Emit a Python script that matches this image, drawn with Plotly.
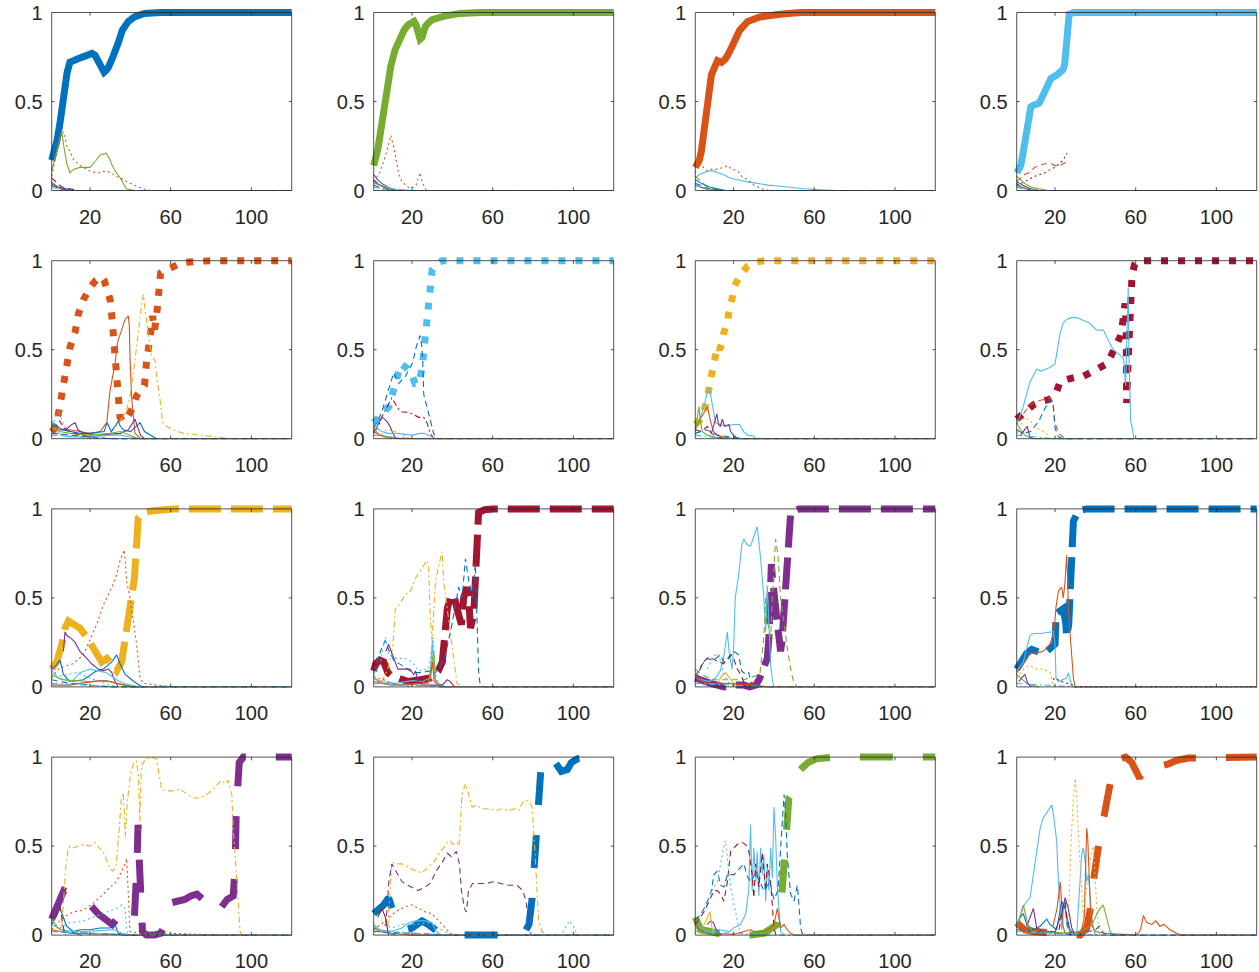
import plotly.graph_objects as go

# ---------------- data ----------------
# series key = colour letter + MATLAB line style
MAIN = ["b-", "g-", "o-", "c-",
        "o:", "c:", "y:", "r:",
        "y--", "r--", "p--", "b--",
        "p-.", "b-.", "g-.", "o-."]

P1 = {
    "b-": [(1,.17),(2.5,.22),(3.6,.28),(5,.37),(6,.46),(7,.55),(8,.63),(8.6,.66),(10,.72),(12,.735),(14,.74),(17.5,.755),(21,.77),(22.5,.76),(23.5,.74),(25.5,.69),(27,.665),(28,.675),(29,.69),(31,.74),(32.5,.78),(34,.83),(36,.9),(39,.95),(42,.975),(47,.995),(55,1),(120,1)],
    "g-": [(1,.11),(3,.2),(5,.3),(6,.33),(7,.25),(8.5,.15),(10,.1),(12,.12),(15,.13),(18,.13),(20,.13),(23,.17),(25,.2),(28,.21),(30,.17),(31,.14),(33,.1),(35,.07),(37,.03),(38,.01),(42,0)],
    "o:": [(1,.08),(3,.2),(5,.3),(7,.33),(8.5,.25),(10,.22),(12,.17),(15,.14),(18,.12),(20,.11),(23,.1),(25,.1),(28,.11),(30,.1),(33,.08),(35,.07),(38,.05),(42,.03),(46,.01),(50,0)],
    "c-": [(1,.05),(3,.03),(6,.01),(10,0),(30,0)],
    "r--": [(1,.07),(3,.05),(6,.02),(10,.01),(14,0)],
    "p-": [(1,.04),(4,.02),(8,.01),(12,0)],
    "o-": [(1,.04),(5,.01),(10,0),(120,0)],
    "b--": [(1,.03),(5,.01),(10,0),(120,0)],
    "c-.": [(1,.02),(6,0),(120,0)],
}
P2 = {
    "g-": [(1,.14),(2,.18),(3,.23),(4,.3),(5,.37),(6.5,.51),(8,.62),(9.5,.7),(11.6,.79),(13.5,.85),(16,.9),(18,.93),(21,.95),(22,.93),(23,.88),(24,.85),(25,.86),(26.5,.92),(28,.94),(30,.96),(36,.98),(44,.995),(54,1),(120,1)],
    "o:": [(1,.05),(4,.1),(7,.2),(9.5,.31),(11,.24),(12,.17),(13.5,.09),(15,.05),(17,.03),(19,.01),(22,.03),(24,.1),(25,.05),(27,0)],
    "b-": [(1,.09),(3,.06),(5,.04),(8,.02),(12,0),(20,0)],
    "r--": [(1,.06),(3,.04),(6,.02),(10,0)],
    "c-": [(1,.04),(5,.03),(10,.01),(20,0),(40,0)],
    "o-": [(1,.05),(4,.03),(8,.01),(12,0),(120,0)],
    "b--": [(1,.03),(6,.01),(12,0),(120,0)],
    "c-.": [(1,.02),(8,0),(120,0)],
}
P3 = {
    "o-": [(1,.13),(2,.15),(3,.17),(4,.22),(4.7,.28),(6,.42),(7.6,.56),(9,.65),(10.5,.69),(12,.73),(14,.72),(16,.74),(18,.78),(20.5,.85),(23,.9),(27,.95),(33,.975),(43,.99),(53,1),(120,1)],
    "c-": [(1,.07),(3,.09),(5,.1),(8,.11),(10,.11),(12,.1),(15,.09),(18,.07),(22,.06),(26,.05),(32,.04),(37,.03),(42,.025),(50,.015),(55,.01),(62,.005),(70,0)],
    "o:": [(1,.1),(3,.17),(5,.13),(7,.11),(9,.12),(12,.12),(15,.13),(17,.14),(19,.12),(22,.11),(24,.08),(27,.06),(30,.03),(34,.01),(38,0)],
    "g--": [(1,.08),(3,.06),(6,.03),(10,.01),(14,0)],
    "b-": [(1,.06),(4,.04),(8,.02),(12,.01),(16,0)],
    "r-": [(1,.03),(6,.01),(12,0),(120,0)],
    "b--": [(1,.04),(8,.01),(15,0),(120,0)],
    "c-.": [(1,.03),(10,0),(120,0)],
}
P4 = {
    "c-": [(1,.1),(2,.12),(3,.14),(4,.2),(5,.28),(6,.37),(7,.44),(8,.47),(9.4,.48),(12,.49),(13,.51),(14,.53),(16,.59),(18,.63),(21,.65),(24,.68),(24.8,.71),(25.3,.8),(26,.9),(27,.99),(29.5,1),(120,1)],
    "o--": [(1,.05),(3,.07),(5,.09),(7,.1),(10,.13),(12,.14),(15,.15),(18,.15),(20,.14),(22,.14),(24,.15),(26,.16)],
    "r:": [(1,.03),(5,.05),(10,.08),(15,.1),(18,.12),(20,.13),(22,.15),(24,.17),(26,.21)],
    "g-": [(1,.08),(3,.06),(5,.04),(8,.02),(12,.01),(16,0),(26,0)],
    "b-": [(1,.05),(4,.03),(8,.01),(12,0),(26,0)],
    "p-": [(1,.04),(3,.02),(6,.01),(10,0)],
    "y:": [(1,.06),(4,.04),(8,.02),(12,.01),(18,0)],
    "o-": [(1,.03),(6,.01),(12,0),(120,0)],
    "b--": [(1,.02),(8,0),(120,0)],
    "c-.": [(1,.02),(10,0),(120,0)],
}
P5 = {
    "o:": [(1,.04),(2.7,.06),(4.5,.15),(6,.24),(8.1,.37),(10,.51),(12.6,.6),(14.2,.7),(16.7,.78),(20,.85),(23,.89),(25.8,.91),(27,.89),(28.3,.84),(30,.78),(30.8,.69),(32,.55),(33,.4),(33.6,.31),(34,.22),(34.9,.12),(36,.1),(37.4,.1),(39.5,.14),(41.5,.18),(43,.24),(44.8,.27),(47,.3),(48,.43),(49,.5),(50,.55),(50.5,.63),(51,.69),(52,.61),(53,.69),(53.5,.78),(54,.87),(55,.93),(58,.95),(60,.96),(64,.98),(66,.99),(72,.995),(80,1),(120,1)],
    "o-": [(1,.04),(5,.05),(10,.05),(15,.04),(20,.03),(25,.04),(28.3,.09),(29.9,.27),(32.4,.42),(33.6,.54),(35.7,.61),(37.4,.67),(39,.69),(39.5,.63),(39.8,.46),(40.7,.22),(42.3,.03),(45,0),(120,0)],
    "y-.": [(30,.03),(34.9,.1),(38.2,.16),(40,.25),(42.3,.44),(44,.61),(45.6,.76),(46.5,.81),(47.3,.72),(48.9,.59),(50.6,.46),(52.2,.44),(53,.35),(54.7,.22),(56,.09),(58,.07),(61.3,.05),(66.3,.03),(74.6,.02),(80,.01),(90,0)],
    "b-": [(1,.09),(3,.08),(6,.05),(10,.04),(15,.03),(20,.03),(27,.04),(28.5,.09),(30.5,.04),(33,.08),(34,.1),(35,.07),(36.5,.05),(40,.04),(43,.07),(44.8,.09),(47,.04),(50,.02),(53,0)],
    "p-": [(5,.05),(9,.06),(11,.08),(12.6,.09),(14,.05),(17,.03),(25,.02),(35,.03),(39,.05),(41,.09),(42.3,.11),(43.5,.07),(45,.02),(47,0)],
    "c-": [(1,.1),(2,.08),(3.5,.04),(6,.02),(10,.01),(20,.01),(30,.02),(35,.02),(40,.01),(45,0)],
    "g-": [(1,.06),(5,.04),(10,.03),(20,.02),(30,.03),(35,.04),(40,.02),(44,0)],
    "c:": [(1,.07),(3,.12),(4.5,.16),(6,.1),(8,.06),(12,.03),(16,.01),(20,0)],
    "r--": [(1,.08),(3,.07),(5,.1),(7,.06),(10,.04),(15,.02),(20,.01),(25,0)],
    "b--": [(1,.03),(10,.02),(20,.01),(30,0),(120,0)],
    "c-.": [(1,.02),(15,.01),(30,0),(120,0)],
}
P6 = {
    "c:": [(1,.09),(2,.1),(4,.12),(6,.15),(8.5,.18),(10,.24),(11,.3),(13,.38),(14.5,.42),(17,.4),(19.5,.37),(21.5,.31),(23.5,.31),(25,.4),(25.8,.5),(26.6,.59),(27.4,.69),(28,.78),(29,.87),(30,.95),(32,.98),(35,1),(120,1)],
    "b--": [(1,.06),(3,.1),(5,.15),(7.6,.24),(9,.3),(10.9,.37),(12,.34),(13.4,.31),(15,.33),(16.7,.35),(18.5,.39),(20,.42),(21,.46),(21.7,.5),(23,.55),(24.1,.58),(24.8,.52),(25.3,.45),(25.8,.25),(27.4,.18),(29,.1),(30.7,.03),(32,0),(120,0)],
    "r-.": [(1,.04),(3,.06),(5,.12),(6.8,.16),(8.5,.2),(10,.23),(11.5,.2),(13,.17),(15,.15),(17,.15),(20,.14),(23.3,.12),(25.8,.12),(27.4,.09),(29,.03),(31,0)],
    "p-": [(1,.03),(3,.08),(5,.12),(6.5,.11),(8,.09),(9.5,.06),(10.5,.03),(12,0)],
    "c-": [(1,.09),(2.5,.06),(5,.04),(8,.03),(12,.03),(16,.025),(20,.02),(24,.03),(26,.03),(28,.02),(30,.01),(32,0)],
    "y:": [(5,.02),(7,.05),(9,.05),(12,.04),(14,.03),(17,.01),(20,0)],
    "g-": [(1,.06),(3,.03),(6,.01),(10,0)],
    "o-": [(1,.04),(4,.02),(8,.01),(14,0),(120,0)],
    "c-.": [(1,.02),(10,.01),(20,0),(120,0)],
}
P7 = {
    "y:": [(1,.08),(3,.1),(5,.15),(7,.22),(8,.3),(9,.37),(10,.42),(11,.48),(12,.52),(13,.5),(14,.53),(15,.59),(16,.62),(17,.66),(17.5,.7),(18.5,.74),(19.5,.8),(20.5,.86),(22,.9),(24,.93),(27,.97),(30,.99),(35,1),(120,1)],
    "c-": [(1,.04),(3,.1),(5.3,.18),(6.5,.24),(7.8,.29),(9,.22),(11,.09),(13.4,.08),(16.7,.07),(20,.08),(23,.08),(25,.04),(27,.02),(30,.015),(31,0)],
    "o-": [(1,.06),(3,.1),(5,.14),(7,.18),(8.5,.1),(10,.04),(12,.02),(15,.01),(20,0),(120,0)],
    "g-": [(1,.05),(2.8,.18),(3.5,.1),(4.5,.04),(7,.02),(10,.01),(14,0)],
    "p-": [(9,.03),(10.5,.1),(11.7,.14),(12.5,.08),(13.4,.07),(14.4,.11),(15.5,.07),(17.7,.08),(18.5,.04),(20,.02),(22,0)],
    "b--": [(1,.03),(6,.05),(9,.04),(12,.02),(18,.01),(25,0),(120,0)],
    "r--": [(1,.05),(4,.04),(7,.07),(9,.03),(12,.01),(16,0)],
    "c-.": [(1,.02),(15,0),(120,0)],
}
P8 = {
    "r:": [(1,.11),(4.3,.14),(6.8,.17),(9.3,.19),(13.4,.21),(17,.22),(20,.24),(22.5,.32),(25,.33),(27.4,.34),(30,.345),(34,.35),(37,.37),(40.7,.39),(43,.4),(45.6,.42),(47.5,.46),(49.8,.51),(51,.53),(52.2,.57),(53.2,.62),(53.9,.69),(54.7,.76),(55.3,.62),(55.5,.5),(55.8,.4),(55.6,.3),(55.5,.2),(56.3,.45),(57,.75),(57.5,.85),(58.2,.92),(59.5,.98),(61,1),(120,1)],
    "c-": [(1,.08),(1.8,.1),(4,.17),(6,.26),(7.6,.32),(9,.35),(10.9,.39),(13,.38),(15,.39),(17.5,.4),(20,.42),(21.5,.52),(22.5,.59),(24,.65),(25.8,.67),(28,.68),(30.8,.68),(33,.67),(34.9,.66),(37,.65),(40.7,.61),(44,.61),(46.5,.55),(48.9,.5),(52.2,.47),(54,.45),(55,.3),(55.8,.6),(56.3,.85),(56.6,.5),(57.5,.1),(58.5,.05),(59,0)],
    "o--": [(1,.1),(4.3,.14),(7.6,.19),(10.9,.21),(14.2,.22),(17.5,.23),(19,.2),(20,.09),(21.7,.03),(24,.01),(26,0),(120,0)],
    "b--": [(1,.05),(4,.03),(8,.04),(12,.1),(15,.17),(17.5,.22),(19,.2),(20,.06),(21.7,.01),(24,0),(120,0)],
    "y:": [(1,.03),(3,.08),(5,.12),(7.6,.1),(10.9,.06),(14.2,.04),(15.9,.025),(17,0)],
    "g-": [(1,.09),(3,.05),(5,.02),(7,.01),(10,0),(30,0)],
    "p-": [(3,.02),(5,.05),(6.2,.07),(7.5,.01),(9,0)],
    "c-.": [(1,.02),(10,.01),(20,0),(120,0)],
}
P9 = {
    "y--": [(1,.1),(3.5,.14),(6,.24),(7.6,.33),(9.3,.37),(11.7,.35),(15,.33),(18.4,.28),(21.7,.22),(24.1,.17),(25.8,.14),(28.3,.16),(30.8,.13),(33.2,.09),(35.7,.14),(37.4,.26),(38.5,.35),(39.8,.42),(40.7,.5),(42,.61),(43.1,.8),(43.9,.95),(46.5,.98),(51.4,.99),(61.3,1),(120,1)],
    "o:": [(1,.05),(4.3,.1),(8.4,.12),(11.7,.13),(16.7,.18),(20,.26),(23.3,.35),(26.6,.46),(30.8,.56),(33.2,.63),(34.9,.71),(36.9,.77),(37.4,.72),(38.2,.59),(39.8,.5),(41.5,.37),(43.1,.24),(44.8,.05),(46.5,.02),(53,.01),(63,0)],
    "p-": [(6.8,.2),(7.6,.31),(8.4,.29),(10.9,.27),(12.6,.25),(15,.2),(18.4,.16),(20.8,.13),(24.1,.1),(26.6,.09),(29.1,.1),(30.8,.08),(32,.04),(34,0)],
    "b-": [(1,.1),(3,.12),(5.1,.15),(6.8,.07),(10,.03),(16.7,.04),(23.3,.09),(26.6,.1),(30.8,.14),(33.2,.18),(34.9,.13),(37.4,.07),(40.7,.04),(43,.02),(46,0)],
    "c-": [(1,.09),(4.3,.05),(11,.03),(15,.08),(20,.1),(25,.09),(28,.08),(30.8,.06),(33.2,.04),(36.5,.02),(40,.01),(44,0)],
    "g-": [(1,.07),(6,.04),(20,.03),(28,.035),(33,.02),(38,.01),(42,0)],
    "o-": [(1,.01),(10,.01),(15,.02),(25,.035),(30,.03),(36,.01),(40,0),(120,0)],
    "c:": [(5,.06),(10,.07),(13,.08),(16,.07),(20,.05),(25,.03),(30,.01),(33,0)],
    "b--": [(1,.04),(10,.02),(20,.01),(30,0),(120,0)],
    "c-.": [(1,.02),(20,.01),(35,0),(120,0)],
}
P10 = {
    "r--": [(1,.09),(2,.13),(4,.15),(6,.14),(8,.08),(10,.06),(13,.05),(18,.03),(24,.04),(29,.05),(31,.07),(33,.09),(35,.14),(36,.3),(37.5,.44),(39,.5),(40.7,.52),(42.3,.44),(44.5,.35),(45.6,.5),(47.3,.56),(48.1,.5),(49,.33),(50.6,.41),(51.5,.6),(52.2,.76),(52.3,.9),(53,.98),(56,.995),(60,1),(120,1)],
    "y-.": [(5,.03),(8,.1),(10,.2),(10.9,.29),(11.7,.44),(13.5,.46),(16.7,.52),(19,.53),(21.7,.61),(24,.65),(25.8,.68),(27.4,.71),(28.3,.67),(29,.41),(29.9,.26),(30.5,.39),(31.6,.59),(33.2,.68),(34.9,.76),(35.7,.59),(37.4,.44),(39,.28),(40.7,.14),(42.3,.02),(45,0)],
    "b--": [(1,.08),(3,.15),(5,.22),(6.8,.26),(8.4,.21),(10.9,.15),(15,.12),(19.2,.09),(21.7,.08),(25,.08),(28.3,.09),(30.8,.07),(33.2,.1),(36.5,.18),(39.8,.35),(43.1,.56),(44.8,.5),(46.5,.72),(48.1,.6),(49.8,.5),(51.4,.69),(52.2,.31),(53,.09),(53.8,.01),(56,0),(120,0)],
    "c:": [(1,.07),(4,.12),(6.8,.28),(8.4,.18),(11.7,.16),(16.7,.16),(20,.14),(23.3,.09),(28.3,.1),(29.9,.22),(30.5,.28),(31.6,.07),(33.2,.02),(36,0)],
    "c-": [(1,.05),(5,.03),(11.7,.02),(20,.035),(25,.03),(29,.05),(30.1,.26),(31,.05),(34,.01),(37,0)],
    "p-": [(7,.2),(8.4,.24),(10,.19),(11.7,.14),(13,.1),(19,.1),(20.8,.07),(21.7,.09),(23,.03),(25,.01),(35,.01),(37.4,.04),(39,.03),(41,0)],
    "g-": [(1,.05),(5,.02),(15,.01),(28,.02),(30.8,.2),(31.6,.03),(34,0)],
    "o-": [(1,.03),(10,.01),(25,.02),(29,.03),(30.1,.14),(31,.03),(34,0),(120,0)],
    "o:": [(1,.06),(3,.05),(6,.04),(10,.02),(15,.01),(20,0)],
    "c-.": [(1,.02),(20,.01),(35,0),(120,0)],
}
P11 = {
    "p--": [(1,.05),(3,.04),(5,.03),(8.6,.02),(12,.01),(15,0),(20,.01),(25,.01),(28,0),(31,.01),(32.6,.04),(34.2,.09),(35.5,.11),(36.7,.16),(37.5,.28),(38,.41),(38.4,.52),(38.7,.69),(39.3,.61),(40,.5),(40.8,.41),(41.7,.35),(42.5,.28),(43.3,.2),(44,.26),(45,.41),(45.8,.59),(46.6,.71),(47.4,.86),(48.3,.98),(52.4,1),(120,1)],
    "c-": [(1,.05),(5,.04),(8,.03),(11,.05),(13.4,.09),(15,.16),(16.9,.31),(17.7,.2),(19.2,.1),(20,.22),(20.8,.5),(22.5,.63),(24.1,.8),(25,.83),(26.7,.8),(28.4,.79),(30.1,.85),(31.7,.9),(33.4,.72),(35,.5),(35.9,.31),(36.7,.57),(37.5,.35),(38.4,.12),(39.2,.04),(40,0)],
    "g--": [(1,.1),(4,.07),(10,.04),(18,.04),(25,.04),(33,.07),(35,.28),(35.9,.5),(36.7,.37),(38.4,.28),(39.2,.5),(40.8,.83),(42,.74),(43.3,.5),(45,.35),(46.6,.22),(48.3,.1),(49.9,.02),(51.6,0)],
    "b--": [(1,.06),(4,.12),(7,.16),(10,.15),(13.6,.18),(15.2,.14),(17,.15),(20.1,.2),(22.5,.18),(24,.09),(26,.07),(27.5,.08),(28.5,.03),(30,0),(120,0)],
    "r--": [(1,.04),(5,.14),(8,.17),(11,.15),(15,.13),(18.5,.18),(20,.16),(21.8,.1),(23.5,.07),(25,.03),(27,0)],
    "y-": [(12,.02),(14,.06),(16,.08),(18,.05),(20,.02),(22,0)],
    "c:": [(7,.1),(10,.17),(11.9,.19),(13.5,.15),(15,.08),(17,.03),(20,0)],
    "o-": [(1,.07),(3,.04),(7,.02),(15,.02),(25,.015),(32,.01),(36,0),(120,0)],
    "c-.": [(1,.02),(20,.01),(35,0),(120,0)],
}
P12 = {
    "b--": [(1,.1),(3.5,.14),(6,.19),(8.4,.21),(10.9,.2),(13.4,.19),(15.9,.2),(18.4,.22),(20,.24),(20.3,.32),(20.5,.41),(21.7,.42),(24.1,.44),(25.3,.36),(25.8,.28),(26.8,.35),(27.4,.55),(28,.7),(28.6,.85),(29.1,.93),(31.6,.99),(35.7,1),(120,1)],
    "o-": [(1,.08),(4,.13),(7.6,.19),(10.9,.19),(14.2,.2),(17.5,.24),(19.5,.31),(20.5,.45),(21.7,.54),(23.3,.56),(24.1,.5),(24.9,.58),(25.8,.74),(26.3,.6),(26.6,.44),(27.4,.31),(28.2,.16),(29.1,.05),(30,0),(120,0)],
    "c-": [(1,.09),(4.3,.14),(7.6,.29),(9.3,.3),(12.6,.3),(17.5,.31),(19.2,.31),(20,.24),(20.5,.05),(21.7,.03),(24.1,.04),(25.8,.05),(26.6,.08),(27.4,.04),(28.2,.01),(29,0)],
    "y:": [(1,.05),(4.3,.1),(7.6,.12),(10.9,.1),(14.2,.1),(17.5,.08),(18.4,.05),(19,0)],
    "r:": [(19,.04),(20,.05),(23,.03),(26,.02),(29,.01),(30,0),(120,0)],
    "g-": [(1,.07),(3,.05),(5,.03),(8,.01),(12,0)],
    "p-": [(2,.03),(4,.06),(5,.07),(6.5,.02),(8,0)],
    "c-.": [(1,.02),(15,.01),(30,0),(120,0)],
}
P13 = {
    "p-.": [(1,.09),(3,.15),(5,.21),(7,.25),(9,.24),(12,.22),(15,.21),(18,.19),(20,.17),(24,.12),(28,.08),(31,.06),(34,.1),(36,.14),(38,.15),(40,.12),(42,.1),(43.3,.4),(43.8,.62),(44.5,.4),(45.2,.1),(46,.02),(48,0),(52,0),(55,.01),(57,.05),(59.7,.18),(63,.19),(67,.2),(70,.22),(73,.23),(76,.2),(79,.15),(81,.12),(84,.14),(88,.2),(91,.22),(92,.4),(92.5,.7),(93,.87),(94,.97),(96,1),(120,1)],
    "y-.": [(6,.05),(7,.2),(8,.38),(9,.47),(10,.5),(12,.49),(14,.5),(17,.51),(20,.5),(22.5,.52),(24.5,.49),(26.5,.47),(28,.43),(30,.37),(31.5,.36),(33,.4),(34.5,.6),(35.5,.76),(36.5,.8),(37.5,.55),(38.5,.75),(40,.9),(41.5,.96),(43,.98),(44,.9),(44.7,.64),(45.5,.95),(47,.98),(50,1),(53,.99),(54,.92),(55.5,.82),(58,.81),(61,.81),(64.6,.82),(67,.8),(69.6,.78),(72,.77),(74.6,.77),(77.9,.79),(81.2,.82),(83.5,.85),(85.3,.87),(87,.85),(88.5,.87),(90.3,.79),(91,.6),(92.7,.32),(93.5,.15),(94.4,.02),(95,0)],
    "o:": [(1,.03),(5.1,.08),(8.4,.11),(11.7,.13),(16.7,.14),(21.7,.18),(26.6,.23),(29.9,.27),(33.2,.3),(34.9,.34),(37.4,.4),(38.2,.43),(38.6,.3),(39,.17),(39.8,.02),(45,.01),(60,.01),(86,0)],
    "c:": [(5,.04),(10,.07),(16.7,.08),(21.7,.1),(26.6,.12),(30.8,.14),(33.2,.15),(35.7,.17),(37.4,.15),(38.2,.02),(40,0)],
    "b-": [(1,.06),(3,.1),(5.1,.15),(6.8,.1),(8.4,.05),(11.7,.02),(15,.03),(20,.03),(25,.04),(30,.04),(32.4,.06),(34,.01),(37,0)],
    "c-": [(1,.06),(6,.03),(11.7,.02),(16.7,.02),(25,.025),(32,.03),(36,.01),(40,0)],
    "g-": [(1,.09),(4,.04),(8,.02),(12,.01),(16,0)],
    "r--": [(3,.1),(5.1,.16),(6.8,.04),(8,0)],
    "o-": [(1,.03),(10,.01),(30,.005),(40,0),(120,0)],
    "b--": [(1,.02),(20,.01),(40,0),(120,0)],
    "c-.": [(1,.02),(30,.005),(45,0),(120,0)],
}
P14 = {
    "b-.": [(1,.12),(3.5,.14),(6,.17),(8.4,.21),(10,.15),(12,.08),(14,.04),(17,.03),(20,.04),(23,.07),(25,.08),(28,.06),(31,.03),(34,.01),(40,0),(50,0),(60,0),(66,0),(72,0),(76,.02),(78,.06),(79.5,.2),(80.5,.35),(81.5,.55),(82.5,.7),(83,.85),(84,.95),(85.5,1),(88,1),(91,.97),(94,.92),(97,.93),(99,.97),(102,.99),(108,1)],
    "y-.": [(8,.05),(9.5,.3),(10.1,.41),(12,.4),(15,.4),(18.4,.38),(21.7,.36),(25,.35),(28,.38),(30.8,.41),(34,.47),(35.7,.49),(37.4,.52),(39,.53),(40,.51),(42.3,.52),(43.3,.5),(44,.65),(44.8,.79),(46.5,.85),(48.1,.79),(49.8,.72),(52,.73),(54.7,.71),(58,.71),(61.3,.7),(64.6,.71),(67.9,.7),(71,.71),(72.9,.7),(74.6,.74),(76.2,.76),(77.9,.75),(79.5,.72),(80.3,.6),(81.2,.43),(82,.27),(82.8,.08),(84.5,.02),(87,0)],
    "p--": [(7,.05),(8.5,.3),(10,.4),(12,.36),(15,.3),(18,.28),(21,.26),(23,.25),(26.5,.27),(29,.29),(32,.36),(35,.41),(37.5,.46),(39.5,.44),(42,.47),(43.5,.4),(44.5,.25),(46,.15),(47,.13),(48,.25),(50,.29),(53,.29),(57,.29),(60,.3),(64,.29),(68,.28),(72,.28),(75,.25),(76.5,.19),(78,.08),(79,0)],
    "o:": [(1,.03),(6.8,.08),(11.7,.13),(16.7,.16),(20,.17),(23.3,.15),(26.6,.13),(29.9,.12),(33.2,.08),(36.5,.04),(39,.01),(41.5,0),(80,0)],
    "c-": [(1,.06),(4,.03),(10,.02),(15,.04),(18.4,.07),(21.7,.08),(26.6,.08),(29.9,.07),(32,.02),(34.9,0)],
    "c:": [(6,.06),(10,.04),(16,.06),(22,.06),(28,.07),(32,.05),(36,.02),(40,0),(94,0),(96,.04),(98,.08),(100,.05),(101,.02),(103,0)],
    "r-": [(3,.1),(5.1,.15),(6.8,.1),(8.4,0)],
    "g-": [(1,.05),(4,.02),(8,.01),(12,0)],
    "o-": [(1,.04),(5,.02),(10,.01),(20,0),(120,0)],
    "b--": [(1,.02),(20,.01),(40,0),(120,0)],
    "c-.": [(1,.03),(20,.01),(40,0),(120,0)],
}
P15 = {
    "g-.": [(1,.1),(2,.07),(3.6,.03),(8.6,.02),(12,.01),(20,0),(28.4,0),(35,.01),(38.4,.03),(41.7,.06),(43.3,.13),(44.1,.27),(45.8,.49),(46.6,.64),(47.4,.77),(49.9,.81),(51.6,.87),(52.4,.92),(54,.94),(57,.97),(61,.99),(70,1),(120,1)],
    "c-": [(1,.06),(7,.02),(13,.03),(18,.02),(20,.04),(23.5,.06),(26,.12),(27.5,.25),(28.4,.62),(29.2,.25),(30,.49),(31,.3),(31.7,.47),(32.5,.22),(33.4,.49),(34.2,.34),(35,.45),(35.9,.19),(36.7,.4),(37.5,.25),(38.4,.49),(39.2,.32),(40,.72),(40.8,.56),(41.7,.27),(42.5,.12),(43.3,.02),(45,0)],
    "r--": [(1,.06),(5.3,.13),(7,.17),(10.3,.25),(11.9,.25),(13.6,.23),(15.2,.19),(16.9,.3),(18.5,.47),(20.2,.49),(21.9,.51),(24.3,.52),(25.9,.51),(27.6,.47),(29.2,.34),(30,.21),(30.9,.4),(32.5,.27),(34.2,.46),(35.9,.25),(36.7,.4),(38.4,.29),(39.2,.15),(40,.04),(41,0)],
    "b--": [(1,.08),(5,.14),(8.6,.23),(10.3,.34),(11.9,.36),(13.6,.28),(15.2,.27),(16.9,.34),(20.2,.34),(21.9,.36),(23.5,.38),(25.1,.4),(26.8,.33),(28.4,.3),(31,.35),(33,.3),(35,.25),(38,.3),(40,.2),(42,.25),(43.5,.55),(45,.79),(45.8,.68),(46.6,.45),(47.4,.34),(48.3,.23),(49.9,.19),(51.6,.28),(52.4,.17),(53.2,.04),(54,.01),(56,0),(120,0)],
    "c:": [(1,.08),(4,.12),(8.6,.23),(10.3,.27),(12,.3),(13.5,.4),(15,.49),(16,.53),(16.9,.44),(18.5,.27),(20.2,.17),(21.9,.08),(22.7,.04),(25,0)],
    "o-": [(1,.07),(3,.03),(7,.01),(20,.005),(28.4,.03),(30,.02),(35,.02),(38.4,.04),(40,.06),(41.7,.15),(43.3,.04),(45,.06),(46.6,.03),(48.3,.01),(50,0),(120,0)],
    "p-": [(7,.06),(8.6,.08),(10,.07),(11,.04),(12.6,.01),(14,0)],
    "y-": [(5,.05),(7,.1),(8.3,.13),(9,.06),(10,0)],
    "c-.": [(1,.02),(20,.01),(40,0),(120,0)],
}
P16 = {
    "o-.": [(1,.07),(3,.05),(5,.03),(9.3,.02),(17.5,.01),(25.8,0),(32.4,0),(35.7,.04),(37,.12),(38.2,.19),(39,.3),(41.5,.51),(43.1,.62),(44.5,.68),(45.6,.75),(46.5,.8),(47.5,.88),(49,.95),(52,.99),(55,1),(58,.97),(60,.92),(62,.88),(63,.92),(65,.95),(68,.96),(72,.95),(76,.96),(80,.98),(86,.995),(100,1),(120,1)],
    "c-": [(1,.06),(2.7,.1),(4.3,.16),(6,.19),(7.6,.21),(9.3,.34),(10.9,.49),(12.6,.6),(14.2,.66),(15.9,.69),(17.5,.72),(18.4,.73),(19.2,.68),(20.8,.53),(21.7,.3),(22.6,.15),(23.3,.03),(24,.12),(25,.19),(25.8,.05),(27.4,.02),(30.8,.01),(31.6,.15),(32.4,.3),(33.2,.45),(34,.49),(34.9,.42),(35.7,.3),(36.5,.34),(37.4,.23),(38.2,.1),(39,.04),(40,0)],
    "o-": [(19,.05),(21,.15),(22.6,.3),(23.3,.2),(24,.05),(25,.01),(33,.02),(34.5,.1),(35.2,.35),(35.7,.6),(36.2,.55),(36.9,.3),(37.5,.16),(38.5,.05),(40,.02),(45,.01),(60,0),(62,.02),(63,.06),(63.8,.11),(65.5,.07),(68,.06),(70,.08),(72,.05),(74,.06),(77,.03),(80,.01),(82,0),(120,0)],
    "y:": [(26,.05),(27,.2),(28,.53),(29,.75),(30,.88),(31,.75),(31.5,.58),(32.4,.4),(33.2,.21),(34,.1),(35,.2),(36.5,.35),(38,.45),(39,.5),(40,.3),(41,.1),(42,0)],
    "b-": [(1,.05),(2.7,.1),(4.3,.12),(6,.06),(9.3,.03),(12.6,.05),(15.9,.09),(17.5,.06),(20.8,.03),(23.3,.19),(25,.15),(26.6,.06),(27.4,.03),(30,0)],
    "p-": [(6,.05),(9.3,.15),(10.9,.04),(14,.02),(20,.02),(23.3,.12),(25,.21),(26.6,.15),(28.3,.04),(30,0)],
    "g-": [(1,.04),(4.3,.17),(6.5,.06),(9,.02),(30,.01),(38,.05),(40.8,.12),(42.3,.15),(43.9,.17),(45.6,.1),(47.4,.02),(49,0)],
    "r--": [(22,.03),(24.1,.17),(25,.19),(25.8,.09),(27,.02),(28,0)],
    "b--": [(1,.03),(10,.02),(20,.01),(30,0),(40,.03),(42,.05),(44,.01),(48,0),(120,0)],
    "c-.": [(1,.02),(20,.01),(40,0),(120,0)],
}
PANELS = [P1, P2, P3, P4, P5, P6, P7, P8, P9, P10, P11, P12, P13, P14, P15, P16]

X_TICKS = [20, 60, 100]
X_LABELS = ["20", "60", "100"]
Y_TICKS = [0, 0.5, 1]
Y_LABELS = ["0", "0.5", "1"]

# ---------------- styling ----------------
COLORS = {"b": "#0072BD", "o": "#D95319", "y": "#EDB120", "p": "#7E2F8E",
          "g": "#77AC30", "c": "#4DBEEE", "r": "#A2142F"}
THIN_DASH = {"-": "solid", ":": "2px,3px", "--": "6px,4px", "-.": "6px,3px,2px,3px"}
THICK_DASH = {"-": "solid", ":": "7px,10px", "--": "32px,10px", "-.": "33px,30px"}
THIN_W, THICK_W = 1.1, 7
AX_COLOR = "#262626"
FONT = dict(family="Liberation Sans, Arial, Helvetica, sans-serif", size=20, color=AX_COLOR)

W, H = 1259, 972
BOX_L = [51.7, 373.7, 695.3, 1016.7]
BOX_W = 240
BOX_T = [12.5, 260.7, 508.9, 757.1]
BOX_H = 178
XMIN, XMAX = 1, 120
XPAD_L, XPAD_R = 2, 1
YPAD = 0.04
PPU = BOX_W / (XMAX - XMIN)

fig = go.Figure()
layout = dict(template="none", width=W, height=H, margin=dict(l=0, r=0, t=0, b=0, pad=0),
              paper_bgcolor="white", plot_bgcolor="white", showlegend=False)
shapes = []

for k, panel in enumerate(PANELS):
    r, c = divmod(k, 4)
    ax = "" if k == 0 else str(k + 1)
    xa, ya = "x" + ax, "y" + ax
    x0 = (BOX_L[c] - XPAD_L * PPU) / W
    x1 = min(1.0, (BOX_L[c] + BOX_W + XPAD_R * PPU) / W)
    y0 = 1 - (BOX_T[r] + BOX_H + YPAD * BOX_H) / H
    y1 = 1 - (BOX_T[r] - YPAD * BOX_H) / H
    layout["xaxis" + ax] = dict(domain=[x0, x1], range=[XMIN - XPAD_L, XMAX + XPAD_R],
                                anchor=ya, tickvals=X_TICKS, ticktext=X_LABELS,
                                showgrid=False, zeroline=False, showline=False, ticks="",
                                automargin=False, tickfont=FONT, ticklabelstandoff=5)
    layout["yaxis" + ax] = dict(domain=[y0, y1], range=[-YPAD, 1 + YPAD],
                                anchor=xa, tickvals=Y_TICKS, ticktext=Y_LABELS,
                                showgrid=False, zeroline=False, showline=False, ticks="",
                                automargin=False, tickfont=FONT, ticklabelstandoff=4)
    # box and inward ticks
    shapes.append(dict(type="rect", xref=xa, yref=ya, x0=XMIN, x1=XMAX, y0=0, y1=1,
                       line=dict(color=AX_COLOR, width=0.8), layer="above"))
    tlx = 0.018
    tly = 1.4
    for t in X_TICKS:
        shapes.append(dict(type="line", xref=xa, yref=ya, x0=t, x1=t, y0=0, y1=tlx,
                           line=dict(color=AX_COLOR, width=0.8)))
        shapes.append(dict(type="line", xref=xa, yref=ya, x0=t, x1=t, y0=1, y1=1 - tlx,
                           line=dict(color=AX_COLOR, width=0.8)))
    for t in Y_TICKS[1:-1]:
        shapes.append(dict(type="line", xref=xa, yref=ya, x0=XMIN, x1=XMIN + tly, y0=t, y1=t,
                           line=dict(color=AX_COLOR, width=0.8)))
        shapes.append(dict(type="line", xref=xa, yref=ya, x0=XMAX, x1=XMAX - tly, y0=t, y1=t,
                           line=dict(color=AX_COLOR, width=0.8)))

    main = MAIN[k]
    order = [main] + [s for s in panel if s != main]
    for key in order:
        pts = panel[key]
        xs = [p[0] for p in pts]
        ys = [p[1] for p in pts]
        col, sty = key[0], key[1:]
        thick = key == main
        fig.add_trace(go.Scatter(
            x=xs, y=ys, mode="lines", xaxis=xa, yaxis=ya, hoverinfo="skip",
            line=dict(color=COLORS[col], width=THICK_W if thick else THIN_W,
                      dash=(THICK_DASH if thick else THIN_DASH)[sty])))

layout["shapes"] = shapes
fig.update_layout(**layout)
fig.write_html("out.html")
